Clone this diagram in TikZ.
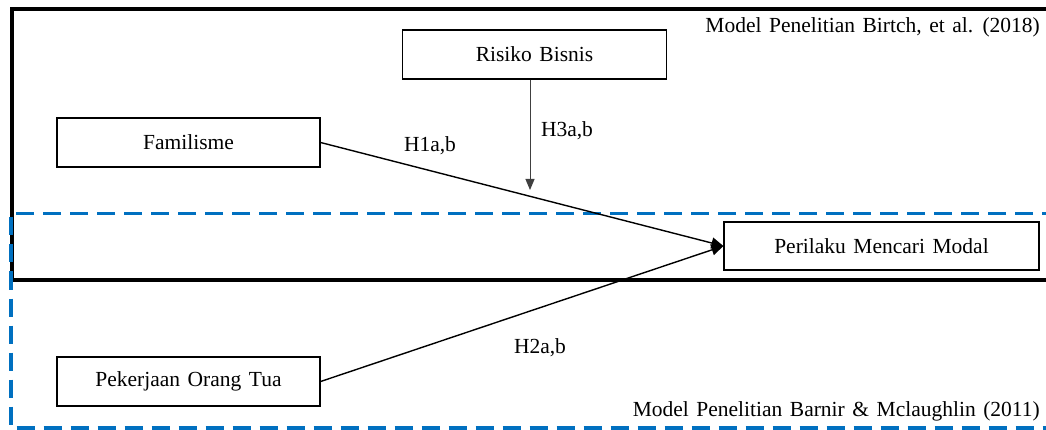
\documentclass[tikz,border=0pt]{standalone}
\usepackage{fontspec}
\setmainfont{Liberation Serif}[WordSpace=1.4]
\usetikzlibrary{arrows.meta}
\definecolor{dashblue}{HTML}{0070C0}
\tikzset{
  box/.style={draw=black, line width=1.2pt, fill=white, inner sep=0pt, font=\fontsize{21.5}{26}\selectfont},
  lbl/.style={inner sep=0pt, font=\fontsize{21.5}{26}\selectfont},
  conn/.style={draw=black, line width=1.4pt, -{Triangle[length=12pt,width=11pt]}},
  thinconn/.style={draw=black!75, line width=1pt, -{Triangle[length=11pt,width=9pt]}},
  blackframe/.style={draw=black, line width=3.5pt},
  blueframe/.style={draw=dashblue, line width=3.5pt, dash pattern=on 18pt off 9pt}
}
\begin{document}
\begin{tikzpicture}[x=1pt,y=-1pt]
\useasboundingbox (0,0) rectangle (1046,430);
% frames
\draw[blackframe] (1060,9) -- (12,9) -- (12,280) -- (1060,280);
\draw[blueframe] (1060,213.5) -- (11,213.5) -- (11,428) -- (1060,428);
% nodes
\node[box, minimum width=263pt, minimum height=49pt] (fam) at (188.5,142.5) {Familisme};
\node[box, minimum width=264pt, minimum height=49pt] (ris) at (534.5,54.5) {Risiko Bisnis};
\node[box, minimum width=315pt, minimum height=48pt] (per) at (881.5,246) {Perilaku Mencari Modal};
\node[box, minimum width=263pt, minimum height=49pt] (pek) at (188.5,381.5) {Pekerjaan Orang Tua};
% labels
\node[lbl] (h1) at (430,146) {H1a,b};
\node[lbl] (h3) at (567,131) {H3a,b};
\node[lbl] (h2) at (540,348) {H2a,b};
\node[lbl, anchor=east] (t1) at (1040,27) {Model Penelitian Birtch, et al. (2018)};
\node[lbl, anchor=east] (t2) at (1040,411) {Model Penelitian Barnir \& Mclaughlin (2011)};
% connectors
\coordinate (tip) at (530,190);
\draw[conn] (fam.east) -- (per.west);
\draw[conn] (pek.east) -- (per.west);
\draw[thinconn] (ris.south -| tip) -- (tip);
\end{tikzpicture}
\end{document}
